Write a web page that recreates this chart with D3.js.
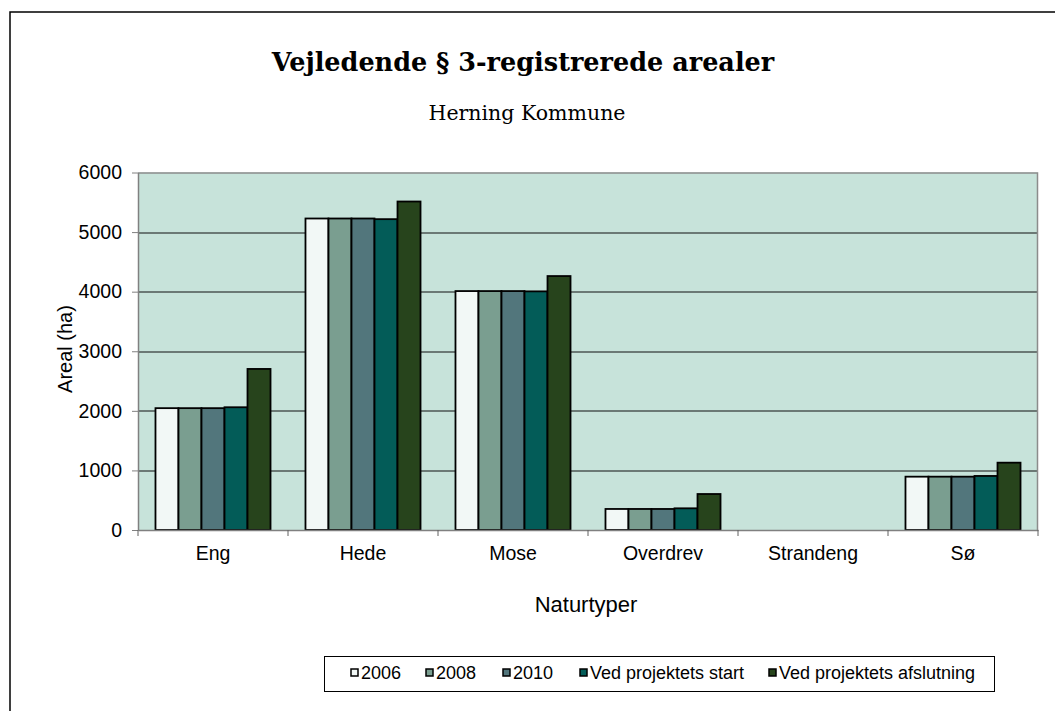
<!DOCTYPE html>
<html>
<head>
<meta charset="utf-8">
<script src="https://cdn.jsdelivr.net/npm/d3@7"></script>
<style>
  body { margin: 0; background: #fff; }
  svg { display: block; }
</style>
</head>
<body>
<div id="chart"></div>
<script>
// data
var categories = ["Eng", "Hede", "Mose", "Overdrev", "Strandeng", "Sø"];
var seriesNames = ["2006", "2008", "2010", "Ved projektets start", "Ved projektets afslutning"];
var v2006 = [2045, 5228, 4010, 353, 0, 895];
var v2008 = [2045, 5228, 4010, 353, 0, 895];
var v2010 = [2045, 5228, 4010, 353, 0, 895];
var vStart = [2060, 5217, 4005, 364, 0, 907];
var vSlut = [2703, 5513, 4262, 604, 0, 1130];
var yTicks = [0, 1000, 2000, 3000, 4000, 5000, 6000];
var colors = ["#f2f8f6", "#7a9e90", "#52767c", "#035c58", "#27441c"];

var allSeries = [v2006, v2008, v2010, vStart, vSlut];

var W = 1055, H = 711;
var margin = { top: 172.5, right: 17, bottom: 181, left: 138 };
var width = W - margin.left - margin.right,
    height = H - margin.top - margin.bottom;

var svg = d3.select("#chart").append("svg")
  .attr("width", W)
  .attr("height", H);

// outer frame (only top/left visible)
svg.append("rect")
  .attr("x", 10).attr("y", 12)
  .attr("width", W + 20).attr("height", H + 20)
  .attr("fill", "none")
  .attr("stroke", "#000")
  .attr("stroke-width", 1.5);

// titles
svg.append("text")
  .attr("x", 523).attr("y", 71)
  .attr("text-anchor", "middle")
  .style("font-family", "Georgia, 'DejaVu Serif', serif")
  .style("font-weight", "bold")
  .style("font-size", "25.5px")
  .text("Vejledende § 3-registrerede arealer");

svg.append("text")
  .attr("x", 527).attr("y", 120)
  .attr("text-anchor", "middle")
  .style("font-family", "Georgia, 'DejaVu Serif', serif")
  .style("font-size", "20.5px")
  .text("Herning Kommune");

var g = svg.append("g")
  .attr("transform", "translate(" + margin.left + "," + margin.top + ")");

var x0 = d3.scaleBand().domain(categories).range([0, width]).paddingInner(0).paddingOuter(0);
var x1 = d3.scaleBand().domain(d3.range(seriesNames.length))
  .range([0, x0.bandwidth()]).paddingInner(0).paddingOuter(0.76);
var y = d3.scaleLinear().domain([0, 6000]).range([height, 0]);

// plot background
g.append("rect")
  .attr("width", width).attr("height", height)
  .attr("fill", "#c7e3da");

// gridlines
g.selectAll(".grid").data(yTicks.slice(1, -1)).enter().append("line")
  .attr("x1", 0).attr("x2", width)
  .attr("y1", function(d) { return Math.round(y(d)) + 0.5; })
  .attr("y2", function(d) { return Math.round(y(d)) + 0.5; })
  .attr("stroke", "#111")
  .attr("stroke-width", 1.2);

// top and right border of plot
g.append("path")
  .attr("d", "M0,0.5H" + (width - 0.5) + "V" + height)
  .attr("fill", "none")
  .attr("stroke", "#8c8c8c")
  .attr("stroke-width", 1.5);

// bars
var groups = g.selectAll(".cat").data(categories).enter().append("g")
  .attr("transform", function(d) { return "translate(" + x0(d) + ",0)"; });

groups.selectAll("rect")
  .data(function(d, i) {
    return allSeries.map(function(s, k) { return { k: k, v: s[i] }; });
  })
  .enter().append("rect")
  .filter(function(d) { return d.v > 0; })
  .attr("x", function(d) { return x1(d.k); })
  .attr("y", function(d) { return y(d.v); })
  .attr("width", x1.bandwidth())
  .attr("height", function(d) { return height - y(d.v); })
  .attr("fill", function(d) { return colors[d.k]; })
  .attr("stroke", "#000")
  .attr("stroke-width", 1.8);

// y axis
var yAxis = g.append("g")
  .call(d3.axisLeft(y).tickValues(yTicks).tickFormat(d3.format("d"))
    .tickSize(6).tickSizeOuter(0).tickPadding(10));
yAxis.select(".domain").attr("stroke", "#808080").attr("stroke-width", 1.5);
yAxis.selectAll(".tick line").attr("stroke", "#808080");
yAxis.selectAll("text")
  .style("font-family", "Arial, 'Liberation Sans', sans-serif")
  .style("font-size", "19.5px")
  .attr("fill", "#000");

// x axis
var xAxis = g.append("g")
  .attr("transform", "translate(0," + height + ")")
  .call(d3.axisBottom(x0).tickSize(0).tickPadding(16));
xAxis.select(".domain").attr("stroke", "#808080").attr("stroke-width", 1.5);
xAxis.selectAll("text")
  .style("font-family", "Arial, 'Liberation Sans', sans-serif")
  .style("font-size", "19.5px")
  .attr("fill", "#000");

// category separator ticks
var bounds = categories.map(function(c) { return x0(c); }).concat([width]);
xAxis.selectAll(".sep").data(bounds).enter().append("line")
  .attr("x1", function(d) { return d; }).attr("x2", function(d) { return d; })
  .attr("y1", 0).attr("y2", 6)
  .attr("stroke", "#606060");

// axis titles
svg.append("text")
  .attr("transform", "translate(72," + 349 + ") rotate(-90)")
  .attr("text-anchor", "middle")
  .style("font-family", "Arial, 'Liberation Sans', sans-serif")
  .style("font-size", "20px")
  .text("Areal (ha)");

svg.append("text")
  .attr("x", margin.left + width / 2 - 2).attr("y", 612)
  .attr("text-anchor", "middle")
  .style("font-family", "Arial, 'Liberation Sans', sans-serif")
  .style("font-size", "22px")
  .text("Naturtyper");

// legend
var legend = svg.append("g");
legend.append("rect")
  .attr("x", 324.5).attr("y", 656.5)
  .attr("width", 670).attr("height", 35)
  .attr("fill", "#fff")
  .attr("stroke", "#000");

var legendX = [351, 426, 503, 580, 769];
var items = legend.selectAll(".item").data(seriesNames).enter().append("g")
  .attr("transform", function(d, i) { return "translate(" + legendX[i] + ",672.5)"; });
items.append("rect")
  .attr("x", 0).attr("y", -3.5)
  .attr("width", 7).attr("height", 7)
  .attr("fill", function(d, i) { return colors[i]; })
  .attr("stroke", "#000")
  .attr("stroke-width", 1.5);
items.append("text")
  .attr("x", 10).attr("y", 6.8)
  .style("font-family", "Arial, 'Liberation Sans', sans-serif")
  .style("font-size", "18px")
  .text(function(d) { return d; });
</script>
</body>
</html>
